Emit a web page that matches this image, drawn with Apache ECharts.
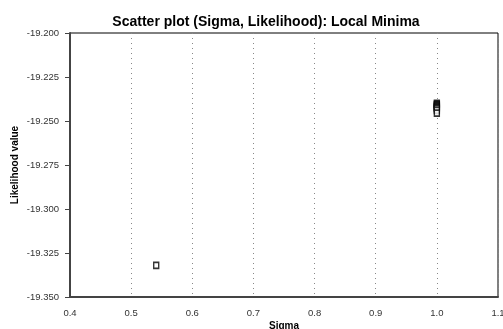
<!DOCTYPE html>
<html>
<head>
    <meta charset="utf-8">
    <title>Scatter plot</title>
    <script src="https://cdn.jsdelivr.net/npm/echarts@6/dist/echarts.min.js"></script>
</head>
<body style="margin:0">
<div id="chart" style="width:503px;height:329px;"></div>
<script type="text/javascript">
    // sigma / likelihood pairs
    var sigma = [0.541, 1.0, 1.0, 1.0, 1.0, 1.0, 1.0, 1.0, 1.0, 1.0];
    var likelihood = [-19.332, -19.2400, -19.2405, -19.2410, -19.2415, -19.2420, -19.2425, -19.2430, -19.2440, -19.2455];
    var xTicks = [0.4, 1.1, 0.1];
    var yTicks = [-19.35, -19.2, 0.025];

    var points = [];
    for (var i = 0; i < sigma.length; i++) {
        points.push([sigma[i], likelihood[i]]);
    }

    var font = 'Liberation Sans, Arial, sans-serif';
    var myChart = echarts.init(document.getElementById('chart'));
    var option = {
        animation: false,
        title: {
            text: 'Scatter plot (Sigma, Likelihood): Local Minima',
            left: 261,
            textAlign: 'center',
            top: 10,
            textStyle: { fontSize: 14, fontWeight: 'bold', color: '#000', fontFamily: font }
        },
        grid: {
            left: 70, right: 5, top: 33, bottom: 32,
            containLabel: false,
            outerBoundsMode: 'none',
            show: true, borderColor: '#000', borderWidth: 1
        },
        xAxis: {
            type: 'value',
            min: xTicks[0], max: xTicks[1], interval: xTicks[2],
            name: 'Sigma',
            nameLocation: 'middle',
            nameGap: 24,
            nameMoveOverlap: false,
            nameTextStyle: { fontSize: 10, fontWeight: 'bold', color: '#000', fontFamily: font },
            axisLine: { lineStyle: { color: '#444', width: 2 } },
            axisTick: { show: false },
            axisLabel: {
                fontSize: 9.5, color: '#333', fontFamily: font, margin: 11,
                formatter: function (v) { return v.toFixed(1); }
            },
            splitLine: { show: true, lineStyle: { color: '#888', type: [1, 4], width: 1 } }
        },
        yAxis: {
            type: 'value',
            min: yTicks[0], max: yTicks[1], interval: yTicks[2],
            name: 'Likelihood value',
            nameLocation: 'middle',
            nameGap: 50,
            nameMoveOverlap: false,
            nameTextStyle: { fontSize: 10, fontWeight: 'bold', color: '#000', fontFamily: font },
            axisLine: { lineStyle: { color: '#444', width: 2 } },
            axisTick: { show: true, length: 5, lineStyle: { color: '#444' } },
            axisLabel: {
                fontSize: 9.5, color: '#333', fontFamily: font, margin: 11,
                formatter: function (v) { return v.toFixed(3); }
            },
            splitLine: { show: false }
        },
        series: [{
            type: 'scatter',
            symbol: 'rect',
            symbolSize: [5, 6],
            itemStyle: { color: '#fff', borderColor: '#000', borderWidth: 1.5 },
            data: points
        }]
    };
    myChart.setOption(option);
</script>
</body>
</html>
